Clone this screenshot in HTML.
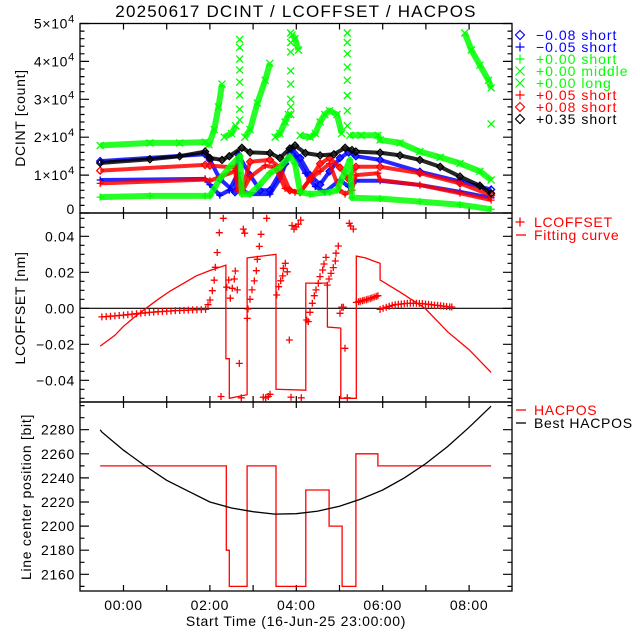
<!DOCTYPE html>
<html><head><meta charset="utf-8"><style>
html,body{margin:0;padding:0;background:#fff;}
svg{display:block;font-family:"Liberation Sans",sans-serif;letter-spacing:0.7px;}
</style></head><body>
<svg id="chart" width="640" height="640" viewBox="0 0 640 640" xmlns="http://www.w3.org/2000/svg">
<rect x="0" y="0" width="640" height="640" fill="#fff"/>
<text x="296" y="17" text-anchor="middle" font-size="17" letter-spacing="1.2" fill="#000">20250617 DCINT / LCOFFSET / HACPOS</text>
<text transform="translate(25,118) rotate(-90)" text-anchor="middle" font-size="14">DCINT [count]</text>
<text transform="translate(25,308) rotate(-90)" text-anchor="middle" font-size="14">LCOFFSET [nm]</text>
<text transform="translate(31,497) rotate(-90)" text-anchor="middle" font-size="14">Line center position [bit]</text>
<text x="296" y="626" text-anchor="middle" font-size="14">Start Time (16-Jun-25 23:00:00)</text>
<g id="layer"></g>
</svg>
<script>
// ---------- data ----------
var xTickHours = [0,1,2,3,4,5,6,7,8];
var xTickLabels = ["00:00","","02:00","","04:00","","06:00","","08:00"];
var dcTickVals = [0,1,2,3,4,5];
var lcTickVals = [-0.04,-0.02,0.00,0.02,0.04];
var lcTickLabels = ["\u22120.04","\u22120.02","0.00","0.02","0.04"];
var hpTickVals = [2160,2180,2200,2220,2240,2260,2280];

// DCINT series (hours, value in 1e4 counts); null separates segments
var blueDiaT = [-0.54,1.89,2.0,2.23,2.58,2.65,2.93,3.16,3.39,3.74,3.90,4.09,4.32,4.55,4.77,5.01,5.21,5.38,5.94,6.86,7.79,8.51];
var blueDiaV = [1.37,1.55,1.4,0.9,0.55,1.55,1.0,0.6,0.6,1.3,1.7,1.45,1.0,0.75,1.1,1.45,1.6,1.5,1.4,1.09,0.83,0.62];
var bluePlusT = [-0.54,1.89,2.0,2.23,2.45,2.65,2.74,2.93,3.39,3.62,3.85,3.97,4.21,4.44,4.66,5.01,5.21,5.38,5.94,6.86,7.79,8.51];
var bluePlusV = [0.87,0.9,0.75,0.47,0.6,1.05,0.6,0.5,0.5,0.9,1.6,1.5,1.05,0.7,0.55,0.87,0.7,0.85,0.85,0.74,0.56,0.4];
var greenPlusT = [-0.54,0.61,1.89,2.0,2.23,2.45,2.70,2.74,2.93,3.16,3.39,3.62,3.85,3.97,4.09,4.32,4.77,4.94,5.13,5.24,5.29,5.94,6.86,7.79,8.51];
var greenPlusV = [0.42,0.45,0.45,0.45,0.9,1.2,1.5,0.5,0.5,0.75,1.05,1.2,1.5,1.3,0.55,0.5,0.55,0.6,1.1,1.4,0.4,0.38,0.3,0.22,0.1];
var greenMidT = [-0.54,0.61,1.3,1.89,1.98,2.1,2.2,2.28,null,2.33,2.5,2.6,null,2.81,2.93,3.1,3.28,3.39,null,3.51,3.62,3.74,3.82,null,3.9,3.97,4.05,null,4.09,4.32,4.44,4.55,4.66,4.77,4.94,5.05,null,5.24,5.5,5.89,5.94,6.4,6.86,7.33,7.79,8.25,8.51];
var greenMidV = [1.78,1.85,1.85,1.87,1.80,2.2,2.8,3.4,null,2.0,2.1,2.3,null,2.0,2.2,2.9,3.5,3.95,null,2.0,2.1,2.4,2.6,null,4.7,4.6,4.3,null,2.05,2.0,2.1,2.4,2.6,2.7,2.6,2.1,null,2.05,2.05,2.05,1.93,1.85,1.62,1.47,1.31,1.1,0.87];
var greenSpikeT = [2.69,2.69,2.69,2.69,2.69,2.69,2.69,2.69,3.87,3.87,3.87,3.87,3.87,3.87,3.87,3.87,5.18,5.18,5.18,5.18,5.18,5.18,5.18,5.18,8.51];
var greenSpikeV = [4.58,4.37,4.06,3.77,3.45,3.11,2.74,2.45,4.75,4.5,4.25,3.75,3.4,3.0,2.8,2.6,4.75,4.5,4.2,3.85,3.5,3.1,2.7,2.3,2.35];
var greenLongT = [7.90,8.05,8.25,8.45,8.51];
var greenLongV = [4.75,4.3,3.9,3.5,3.3];
var redPlusT = [-0.54,1.89,2.0,2.23,2.58,2.65,2.74,2.93,3.28,3.51,3.74,3.97,4.09,4.32,4.55,4.77,5.01,5.13,5.29,5.38,5.89,5.94,6.86,7.79,8.51];
var redPlusV = [0.78,0.88,0.85,0.95,1.1,0.6,0.55,0.95,1.25,1.2,0.65,0.55,0.55,0.9,1.1,1.3,0.6,0.5,0.6,1.0,1.05,0.87,0.74,0.52,0.34];
var redDiaT = [-0.54,1.89,2.0,2.58,2.74,2.93,3.39,3.62,3.85,4.09,4.32,4.55,4.77,5.01,5.21,5.38,5.94,6.86,7.79,8.51];
var redDiaV = [1.12,1.27,1.25,1.2,0.6,1.35,1.4,1.2,0.6,0.55,0.9,1.3,1.45,1.2,0.9,1.22,1.22,1.05,0.78,0.47];
var blackDiaT = [-0.54,0.61,1.3,1.89,2.0,2.28,2.45,2.74,2.93,3.39,3.62,3.85,3.97,4.21,4.55,4.87,5.13,5.29,5.38,5.94,6.4,6.86,7.33,7.79,8.25,8.51];
var blackDiaV = [1.32,1.42,1.5,1.62,1.45,1.40,1.5,1.72,1.6,1.58,1.45,1.70,1.78,1.58,1.52,1.55,1.72,1.66,1.62,1.59,1.52,1.40,1.22,0.96,0.72,0.52];

// LCOFFSET measured points
var lcT = [-0.5,-0.4,-0.3,-0.2,-0.1,0,0.1,0.2,0.3,0.4,0.5,0.6,0.7,0.8,0.9,1.0,1.1,1.2,1.3,1.4,1.5,1.6,1.7,1.8,1.9,
 1.956,2.002,2.056,2.10,2.125,2.17,2.218,2.31,2.257,2.389,2.435,2.472,2.519,2.565,2.588,2.634,2.681,2.727,2.773,2.806,2.866,2.882,2.928,2.975,3.028,3.074,3.097,3.144,3.183,3.236,3.292,3.315,3.352,3.391,3.546,3.593,3.639,3.685,3.699,3.745,3.792,3.838,3.877,3.90,3.947,3.993,4.046,4.102,4.116,4.241,4.278,4.317,4.37,4.417,4.456,4.509,4.549,4.611,4.641,4.688,4.718,4.757,4.803,4.856,4.903,4.919,4.972,5.012,5.051,5.088,5.127,5.181,5.227,5.259,5.319,
 5.39,5.44,5.48,5.53,5.57,5.62,5.66,5.71,5.75,5.80,5.85,5.89,
 5.94,6.01,6.08,6.15,6.22,6.29,6.36,6.43,6.50,6.57,6.64,6.71,6.78,6.85,6.92,6.99,7.06,7.13,7.20,7.27,7.34,7.41,7.48,7.55,7.60];
var lcV = [-0.0048,-0.0046,-0.0044,-0.0042,-0.0040,-0.0038,-0.0035,-0.0033,-0.0030,-0.0027,-0.0025,-0.0023,-0.0021,-0.0019,-0.0018,-0.0016,-0.0015,-0.0013,-0.0012,-0.0011,-0.0010,-0.0009,-0.0008,-0.0007,-0.0006,
 0.002,0.0046,0.0098,0.0156,0.0228,0.031,0.042,0.050,-0.049,0.0117,0.0157,0.0056,0.0111,0.0163,0.0207,0.0102,-0.0306,-0.0497,0.044,0.0417,-0.0056,-0.0004,0.005,0.0102,0.0152,0.0209,0.0272,0.0344,0.0411,-0.0494,-0.0497,0.050,-0.049,-0.0478,0.0074,0.012,0.0153,0.018,0.0222,0.025,0.0203,-0.0176,-0.0494,0.046,0.044,0.0453,0.0467,0.049,-0.0497,-0.0065,-0.0074,-0.0022,0.0028,0.007,0.0102,0.0139,0.0176,0.0213,0.0246,0.0283,0.0129,0.0163,0.0194,0.0226,0.0263,0.0306,0.0346,-0.0028,0.0006,0.0006,-0.0222,-0.0497,0.0472,0.0457,0.044,
 0.0033,0.0036,0.0039,0.0042,0.0045,0.0048,0.0051,0.0054,0.0058,0.0062,0.0066,0.0070,
 -0.0006,0.0000,0.0006,0.0011,0.0016,0.0020,0.0022,0.0024,0.0026,0.0027,0.0028,0.0028,0.0028,0.0027,0.0026,0.0024,0.0022,0.0020,0.0018,0.0016,0.0014,0.0012,0.0010,0.0008,0.0007];
// Fitting curve
var fitT = [-0.54,-0.2,0,0.25,0.52,0.8,1.08,1.4,1.68,2.0,2.37,2.37,2.45,2.45,2.86,2.86,3.2,3.53,3.53,4.22,4.22,4.72,4.72,5.03,5.03,5.39,5.39,5.6,5.82,5.94,5.94,6.4,6.98,7.5,8.0,8.51];
var fitV = [-0.021,-0.015,-0.010,-0.005,0.0,0.005,0.0096,0.014,0.018,0.021,0.024,-0.028,-0.028,-0.050,-0.048,0.028,0.029,0.030,-0.045,-0.0455,0.014,0.014,-0.0104,-0.011,-0.050,-0.050,0.029,0.028,0.026,0.025,0.0157,0.009,0.0,-0.013,-0.023,-0.0356];
// HACPOS (step) and best HACPOS
var hacT = [-0.54,2.38,2.45,2.86,3.53,4.22,4.76,5.06,5.38,5.89];
var hacV = [2250,2180,2150,2250,2150,2230,2200,2150,2260,2250];
var hacEndT = 8.51;
var bestT = [-0.54,-0.5,0,0.5,1.0,1.5,2.0,2.5,3.0,3.5,4.0,4.5,5.0,5.5,6.0,6.5,7.0,7.5,8.0,8.51];
var bestV = [2280,2278,2263,2250,2238,2229,2220,2215,2212,2210,2210.3,2212.5,2216.5,2222.5,2230,2240,2252,2266,2282,2299.5];

// ---------- scales ----------
var L = 80, R = 512;
var P1 = [23.5, 213], P2 = [213, 402], P3 = [402, 591];
function X(h){ return 123.5 + 43.2*h; }
function Y1(v){ return 213 - v*37.9; }
function Y2(v){ return 308.3 - v*1800; }
function Y3(v){ return 402 + (2303 - v)*1.205; }
var NS = "http://www.w3.org/2000/svg";
var layer = document.getElementById('layer');
function el(tag, parent){ var e = document.createElementNS(NS, tag); (parent||layer).appendChild(e); return e; }

function ptsFrom(T, V, fy){
  var segs = [], cur = [];
  for (var i=0;i<T.length;i++){
    if (T[i]===null){ if(cur.length) segs.push(cur); cur=[]; continue; }
    cur.push(X(T[i]).toFixed(1)+","+fy(V[i]).toFixed(1));
  }
  if(cur.length) segs.push(cur);
  return segs;
}
function markerPath(kind, x, y, s){
  if (kind==='diamond') return "M"+x+","+(y-s)+"L"+(x+s)+","+y+"L"+x+","+(y+s)+"L"+(x-s)+","+y+"Z";
  if (kind==='plus') return "M"+(x-s)+","+y+"H"+(x+s)+"M"+x+","+(y-s)+"V"+(y+s);
  return "M"+(x-s)+","+(y-s)+"L"+(x+s)+","+(y+s)+"M"+(x+s)+","+(y-s)+"L"+(x-s)+","+(y+s);
}
function drawSeries(name, T, V, fy, color, kind, bandW){
  var g = el('g');
  
  
  if (bandW){
    var segs = ptsFrom(T, V, fy);
    for (var k=0;k<segs.length;k++){
      var pl = el('polyline', g);
      
      
      pl.setAttribute('points', segs[k].join(' '));
      pl.setAttribute('fill', 'none');
      pl.setAttribute('stroke', color);
      pl.setAttribute('stroke-width', bandW);
      pl.setAttribute('stroke-opacity', '0.85');
      pl.setAttribute('stroke-linejoin', 'round');
    }
  }
  var d = "";
  for (var i=0;i<T.length;i++){
    if (T[i]===null) continue;
    d += markerPath(kind, +X(T[i]).toFixed(1), +fy(V[i]).toFixed(1), 3.5);
  }
  var p = el('path', g);
  
  
  p.setAttribute('d', d);
  p.setAttribute('fill', 'none');
  p.setAttribute('stroke', color);
  p.setAttribute('stroke-width', '1.3');
}

// ---------- axes ----------
function frame(name, top, bot){
  var r = el('rect');
  
  
  r.setAttribute('x', L); r.setAttribute('y', top);
  r.setAttribute('width', R-L); r.setAttribute('height', bot-top);
  r.setAttribute('fill', 'none'); r.setAttribute('stroke', '#000'); r.setAttribute('stroke-width', '1.3');
  var d = "";
  for (var i=0;i<xTickHours.length;i++){
    var x = X(xTickHours[i]).toFixed(1);
    d += "M"+x+","+top+"v6M"+x+","+bot+"v-6";
  }
  var t = el('path');
  
  
  t.setAttribute('d', d); t.setAttribute('stroke', '#000'); t.setAttribute('stroke-width', '1.2');
}
function yTicks(name, fy, lo, hi, minorStep, majorList, top, bot){
  var d = "";
  var n = Math.round((hi-lo)/minorStep);
  for (var i=0;i<=n;i++){
    var v = lo + i*minorStep, y = fy(v);
    if (y < top-0.5 || y > bot+0.5) continue;
    var major = majorList.some(function(m){ return Math.abs(m-v) < minorStep/10; });
    var len = major ? 9 : 4.5;
    d += "M"+L+","+y.toFixed(1)+"h"+len+"M"+R+","+y.toFixed(1)+"h-"+len;
  }
  var t = el('path');
  
  
  t.setAttribute('d', d); t.setAttribute('stroke', '#000'); t.setAttribute('stroke-width', '1.2');
}
frame('dcint-panel-frame', P1[0], P1[1]);
frame('lcoffset-panel-frame', P2[0], P2[1]);
frame('hacpos-panel-frame', P3[0], P3[1]);
yTicks('dcint-y-ticks', Y1, 0, 5, 0.2, dcTickVals, P1[0], P1[1]);
yTicks('lcoffset-y-ticks', Y2, -0.05, 0.05, 0.005, lcTickVals, P2[0], P2[1]);
yTicks('hacpos-y-ticks', Y3, 2150, 2300, 10, hpTickVals, P3[0], P3[1]);

// tick labels
for (var i=0;i<dcTickVals.length;i++){
  var v = dcTickVals[i], y = Y1(v);
  var t = el('text');
  
  
  t.setAttribute('x', 75); t.setAttribute('y', (v===0? y+1 : y+5).toFixed(1));
  t.setAttribute('text-anchor', 'end'); t.setAttribute('font-size', '14');
  if (v===0){ t.textContent = "0"; }
  else {
    t.textContent = v + "\u00d710";
    var s = el('tspan', t);
    
    
    s.setAttribute('dy', '-6'); s.setAttribute('font-size', '11');
    s.textContent = "4";
  }
}
for (var i=0;i<lcTickVals.length;i++){
  var t = el('text');
  
  
  t.setAttribute('x', 75); t.setAttribute('y', (Y2(lcTickVals[i])+5).toFixed(1));
  t.setAttribute('text-anchor', 'end'); t.setAttribute('font-size', '14');
  t.textContent = lcTickLabels[i];
}
for (var i=0;i<hpTickVals.length;i++){
  var t = el('text');
  
  
  t.setAttribute('x', 75); t.setAttribute('y', (Y3(hpTickVals[i])+5).toFixed(1));
  t.setAttribute('text-anchor', 'end'); t.setAttribute('font-size', '14');
  t.textContent = String(hpTickVals[i]);
}
for (var i=0;i<xTickHours.length;i++){
  if (!xTickLabels[i]) continue;
  var t = el('text');
  
  
  t.setAttribute('x', X(xTickHours[i]).toFixed(1)); t.setAttribute('y', 610);
  t.setAttribute('text-anchor', 'middle'); t.setAttribute('font-size', '14');
  t.textContent = xTickLabels[i];
}

// ---------- panel 1 series ----------
drawSeries('series-plus-0-00-middle', greenMidT, greenMidV, Y1, '#00ff00', 'x', 6);
drawSeries('series-plus-0-00-middle-spikes', greenSpikeT, greenSpikeV, Y1, '#00ff00', 'x', 0);
drawSeries('series-plus-0-00-long', greenLongT, greenLongV, Y1, '#00ff00', 'x', 6);
drawSeries('series-minus-0-08-short', blueDiaT, blueDiaV, Y1, '#0000ff', 'diamond', 4);
drawSeries('series-minus-0-05-short', bluePlusT, bluePlusV, Y1, '#0000ff', 'plus', 4);
drawSeries('series-plus-0-05-short', redPlusT, redPlusV, Y1, '#ff0000', 'plus', 4);
drawSeries('series-plus-0-08-short', redDiaT, redDiaV, Y1, '#ff0000', 'diamond', 4);
drawSeries('series-plus-0-35-short', blackDiaT, blackDiaV, Y1, '#000000', 'diamond', 4);
drawSeries('series-plus-0-00-short', greenPlusT, greenPlusV, Y1, '#00ff00', 'plus', 6);

// ---------- panel 2 ----------
var zl = el('line');


zl.setAttribute('x1', L); zl.setAttribute('x2', R);
zl.setAttribute('y1', Y2(0).toFixed(1)); zl.setAttribute('y2', Y2(0).toFixed(1));
zl.setAttribute('stroke', '#000'); zl.setAttribute('stroke-width', '1.2');
var fit = el('polyline');


fit.setAttribute('points', ptsFrom(fitT, fitV, Y2)[0].join(' '));
fit.setAttribute('fill', 'none'); fit.setAttribute('stroke', '#ff0000'); fit.setAttribute('stroke-width', '1.3');
drawSeries('lcoffset-points', lcT, lcV, Y2, '#ff0000', 'plus', 0);

// ---------- panel 3 ----------
var hp = [];
for (var i=0;i<hacT.length;i++){
  var tEnd = (i+1<hacT.length) ? hacT[i+1] : hacEndT;
  hp.push(X(hacT[i]).toFixed(1)+","+Y3(hacV[i]).toFixed(1));
  hp.push(X(tEnd).toFixed(1)+","+Y3(hacV[i]).toFixed(1));
}
var hpl = el('polyline');


hpl.setAttribute('points', hp.join(' '));
hpl.setAttribute('fill', 'none'); hpl.setAttribute('stroke', '#ff0000'); hpl.setAttribute('stroke-width', '1.3');
var bpl = el('polyline');


bpl.setAttribute('points', ptsFrom(bestT, bestV, Y3)[0].join(' '));
bpl.setAttribute('fill', 'none'); bpl.setAttribute('stroke', '#000'); bpl.setAttribute('stroke-width', '1.3');

// ---------- legends ----------
var leg1Labels = ["\u22120.08 short","\u22120.05 short","+0.00 short","+0.00 middle","+0.00 long","+0.05 short","+0.08 short","+0.35 short"];
var leg1Colors = ["#0000ff","#0000ff","#00ff00","#00ff00","#00ff00","#ff0000","#ff0000","#000000"];
var leg1Kinds = ["diamond","plus","plus","x","x","plus","diamond","diamond"];
for (var i=0;i<leg1Labels.length;i++){
  var y = 35 + i*12;
  var g = el('g');
  
  
  var m = el('path', g);
  
  
  m.setAttribute('d', markerPath(leg1Kinds[i], 520, y, 4.5));
  m.setAttribute('fill', 'none'); m.setAttribute('stroke', leg1Colors[i]); m.setAttribute('stroke-width', '1.2');
  var t = el('text', g);
  
  
  t.setAttribute('x', 536); t.setAttribute('y', y+5); t.setAttribute('font-size', '14');
  t.setAttribute('letter-spacing', '1');
  t.setAttribute('fill', leg1Colors[i]);
  t.textContent = leg1Labels[i];
}
var leg2 = [["plus","LCOFFSET",225,"#ff0000"],["line","Fitting curve",238,"#ff0000"],["line","HACPOS",413,"#ff0000"],["line","Best HACPOS",426,"#000000"]];
for (var i=0;i<leg2.length;i++){
  var g = el('g');
  
  
  var y = leg2[i][2];
  var m = el('path', g);
  
  
  m.setAttribute('d', leg2[i][0]==='plus' ? markerPath('plus', 520, y-3, 4.5) : "M516,"+(y-3)+"h10");
  m.setAttribute('fill', 'none'); m.setAttribute('stroke', leg2[i][3]); m.setAttribute('stroke-width', '1.3');
  var t = el('text', g);
  
  
  t.setAttribute('x', 534); t.setAttribute('y', y+2); t.setAttribute('font-size', '14');
  t.setAttribute('fill', leg2[i][3]);
  t.textContent = leg2[i][1];
}
</script>
</body></html>
